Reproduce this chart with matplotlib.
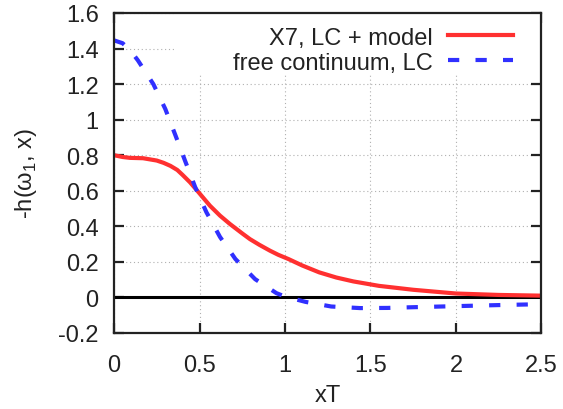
import matplotlib
matplotlib.use('Agg')
import matplotlib.pyplot as plt
from matplotlib.patches import Rectangle

plt.rcParams['font.family'] = ['Liberation Sans', 'DejaVu Sans']
plt.rcParams['mathtext.fontset'] = 'custom'
plt.rcParams['mathtext.rm'] = 'Liberation Sans'

# X7 correlator, LC + model
x_red = [0.0, 0.05, 0.094, 0.17, 0.25, 0.29, 0.33, 0.37, 0.40, 0.444, 0.48, 0.561, 0.62,
         0.678, 0.75, 0.795, 0.85, 0.912, 0.96, 1.02, 1.1, 1.2, 1.3, 1.4, 1.55, 1.75,
         2.0, 2.25, 2.5]
y_red = [0.80, 0.79, 0.785, 0.783, 0.77, 0.757, 0.74, 0.717, 0.69, 0.648, 0.608, 0.516,
         0.46, 0.413, 0.36, 0.328, 0.296, 0.263, 0.24, 0.216, 0.18, 0.141, 0.112, 0.09,
         0.065, 0.043, 0.022, 0.014, 0.01]

# free continuum, LC
x_blue = [0.0, 0.05, 0.095, 0.14, 0.23, 0.30, 0.36, 0.415, 0.475, 0.54, 0.62, 0.71,
          0.825, 0.95, 1.0, 1.12, 1.27, 1.44, 1.6, 1.75, 2.0, 2.25, 2.5]
y_blue = [1.446, 1.43, 1.39, 1.333, 1.20, 1.06, 0.91, 0.77, 0.62, 0.48, 0.34, 0.216,
          0.103, 0.024, 0.005, -0.025, -0.051, -0.06, -0.059, -0.055, -0.049, -0.043,
          -0.038]

x_ticks = [0, 0.5, 1, 1.5, 2, 2.5]
x_labels = ['0', '0.5', '1', '1.5', '2', '2.5']
y_ticks = [-0.2, 0, 0.2, 0.4, 0.6, 0.8, 1, 1.2, 1.4, 1.6]
y_labels = ['-0.2', '0', '0.2', '0.4', '0.6', '0.8', '1', '1.2', '1.4', '1.6']

fs = 17
dark = '#222222'

fig = plt.figure(figsize=(5.63, 4.10), dpi=100)
ax = fig.add_axes([0.2025, 0.1854, 0.7593, 0.7805])

ax.set_xlim(0, 2.5)
ax.set_ylim(-0.2, 1.6)
ax.set_xticks(x_ticks)
ax.set_xticklabels(x_labels)
ax.set_yticks(y_ticks)
ax.set_yticklabels(y_labels)
ax.tick_params(direction='in', length=7, width=1.6, color=dark, labelsize=fs,
               labelcolor=dark, top=True, right=True)
ax.tick_params(axis='y', pad=11)
ax.tick_params(axis='x', pad=15)
for s in ax.spines.values():
    s.set_linewidth(1.6)
    s.set_color(dark)

ax.grid(True, color='#b0b0b0', linestyle=(0, (1, 2.5)), linewidth=0.8, zorder=0)
ax.set_axisbelow(True)

# white box behind the key hides the grid there
ax.add_patch(Rectangle((0.143, 0.809), 0.86, 0.2, transform=ax.transAxes,
                       facecolor='white', edgecolor='none', zorder=0.8))

ax.axhline(0, color='black', linewidth=2.2, zorder=1.5)

ax.plot(x_red, y_red, color='#ff3030', linewidth=3, label='X7, LC + model', zorder=2,
        solid_joinstyle='round')
ax.plot(x_blue, y_blue, color='#3030ff', linewidth=3, linestyle=(0, (2.7, 3.9)),
        dash_capstyle='butt', label='free continuum, LC', zorder=2)

ax.set_xlabel('xT', fontsize=fs, color=dark, labelpad=6)
ax.set_ylabel(r'-h(ω$_\mathregular{1}$, x)', fontsize=fs, color=dark, labelpad=14)

leg = ax.legend(loc='upper right', bbox_to_anchor=(0.934, 0.957), frameon=False,
                markerfirst=False, fontsize=fs, handlelength=2.75, handletextpad=0.65,
                labelspacing=0.12, borderpad=0, borderaxespad=0)
for t in leg.get_texts():
    t.set_color(dark)

fig.savefig('out.png', dpi=100)
